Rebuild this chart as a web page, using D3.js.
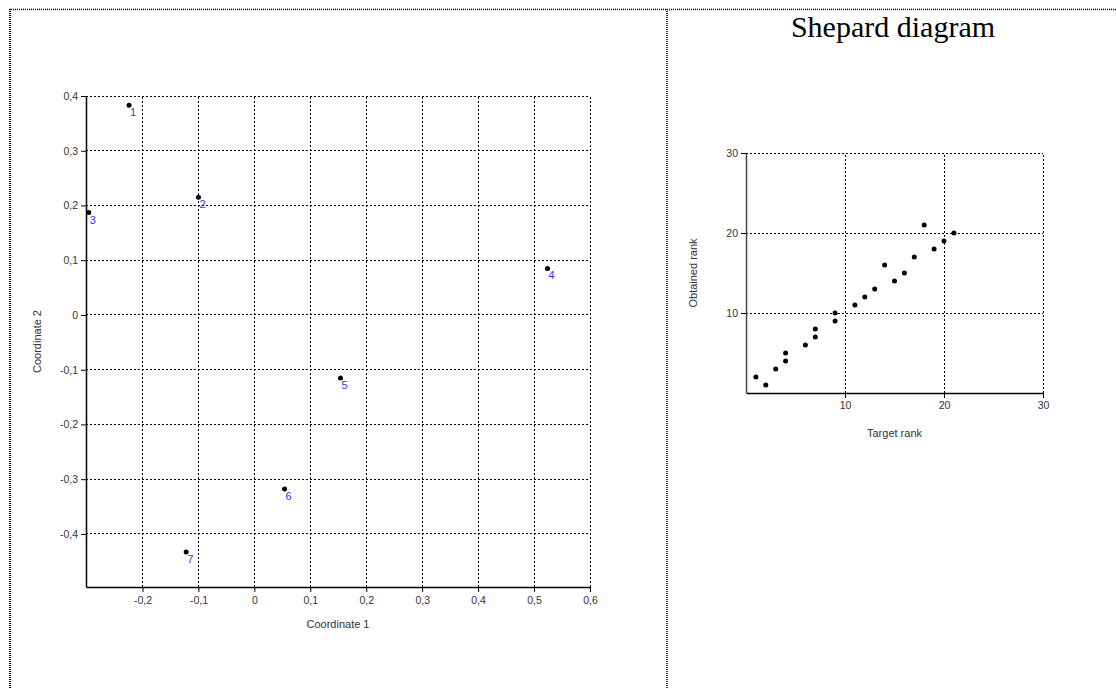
<!DOCTYPE html>
<html>
<head>
<meta charset="utf-8">
<script src="https://cdn.jsdelivr.net/npm/d3@7"></script>
<style>
  body { margin: 0; background: #fff; }
  svg { display: block; font-family: "Liberation Sans", Arial, sans-serif; }
  .tick text { fill: #333; font-size: 10.5px; }
  .grid { stroke: #000; stroke-dasharray: 2,2; stroke-width: 1; fill: none; shape-rendering: crispEdges; }
</style>
</head>
<body>
<div id="chart"></div>
<script>
// MDS configuration (Coordinate 1, Coordinate 2)
var pointIds = ["1", "2", "3", "4", "5", "6", "7"];
var coord1 = [-0.224, -0.100, -0.296, 0.524, 0.154, 0.054, -0.122];
var coord2 = [0.383, 0.215, 0.187, 0.085, -0.115, -0.318, -0.433];

// Shepard diagram ranks
var targetRank   = [1, 2, 3, 4, 4, 6, 7, 7, 9, 9, 11, 12, 13, 14, 15, 16, 17, 18, 19, 20, 21];
var obtainedRank = [2, 1, 3, 4, 5, 6, 7, 8, 9, 10, 11, 12, 13, 16, 14, 15, 17, 21, 18, 19, 20];

var xTicks1 = [-0.2, -0.1, 0, 0.1, 0.2, 0.3, 0.4, 0.5, 0.6];
var yTicks1 = [-0.4, -0.3, -0.2, -0.1, 0, 0.1, 0.2, 0.3, 0.4];
var rankTicks = [10, 20, 30];

var W = 1116, H = 688;

var svg = d3.select("#chart").append("svg")
  .attr("width", W)
  .attr("height", H);

// comma decimal like the original
var loc = d3.formatLocale({decimal: ",", thousands: ".", grouping: [3], currency: ["", ""], minus: "-"});
var fmt = function(d) { return d === 0 ? "0" : loc.format(".1f")(d); };

//-- Page frame (dotted) --//
svg.append("line").attr("x1", 9).attr("x2", W).attr("y1", 9.5).attr("y2", 9.5)
  .attr("stroke", "#000").attr("stroke-width", 1.5).attr("stroke-dasharray", "1,1");
svg.append("line").attr("x1", 10).attr("x2", 10).attr("y1", 9).attr("y2", H)
  .attr("stroke", "#000").attr("stroke-width", 2).attr("stroke-dasharray", "1,1");
svg.append("line").attr("x1", 667).attr("x2", 667).attr("y1", 9).attr("y2", H)
  .attr("stroke", "#000").attr("stroke-width", 1.5).attr("stroke-dasharray", "1,1");

//-- Left: configuration plot --//
var x1 = d3.scaleLinear().domain([-0.301, 0.6]).range([86, 590]);
var y1 = d3.scaleLinear().domain([-0.497, 0.4]).range([587, 96]);

var g1 = svg.append("g");

g1.selectAll(".vgrid").data(xTicks1).enter().append("line")
  .attr("class", "grid")
  .attr("x1", function(d) { return x1(d); }).attr("x2", function(d) { return x1(d); })
  .attr("y1", y1.range()[0]).attr("y2", y1.range()[1]);
g1.selectAll(".hgrid").data(yTicks1).enter().append("line")
  .attr("class", "grid")
  .attr("y1", function(d) { return y1(d); }).attr("y2", function(d) { return y1(d); })
  .attr("x1", x1.range()[0]).attr("x2", x1.range()[1]);

var xAxis1 = d3.axisBottom(x1).tickValues(xTicks1).tickFormat(fmt).tickSize(5).tickPadding(5).tickSizeOuter(0);
var yAxis1 = d3.axisLeft(y1).tickValues(yTicks1).tickFormat(fmt).tickSize(5).tickPadding(3).tickSizeOuter(0);

g1.append("g").attr("transform", "translate(0," + y1.range()[0] + ")").call(xAxis1)
  .call(function(g) { g.select(".domain").attr("stroke-width", 1.5); });
g1.append("g").attr("transform", "translate(" + x1.range()[0] + ",0)").call(yAxis1)
  .call(function(g) { g.select(".domain").attr("stroke-width", 1.5); });

g1.selectAll(".pt").data(pointIds).enter().append("circle")
  .attr("cx", function(d, i) { return x1(coord1[i]); })
  .attr("cy", function(d, i) { return y1(coord2[i]); })
  .attr("r", 2.5)
  .attr("fill", "#000");

g1.selectAll(".lbl").data(pointIds).enter().append("text")
  .attr("x", function(d, i) { return x1(coord1[i]) + 1; })
  .attr("y", function(d, i) { return y1(coord2[i]) + 11; })
  .attr("font-size", "11px")
  .attr("fill", "#3333ff")
  .text(function(d) { return d; });

g1.append("text")
  .attr("x", (x1.range()[0] + x1.range()[1]) / 2).attr("y", 628)
  .attr("text-anchor", "middle").attr("font-size", "11px").attr("fill", "#333")
  .text("Coordinate 1");
g1.append("text")
  .attr("transform", "translate(41," + ((y1.range()[0] + y1.range()[1]) / 2) + ") rotate(-90)")
  .attr("text-anchor", "middle").attr("font-size", "11px").attr("fill", "#333")
  .text("Coordinate 2");

//-- Right: Shepard diagram --//
svg.append("text")
  .attr("x", 893).attr("y", 37)
  .attr("text-anchor", "middle")
  .attr("font-family", "'Liberation Serif', 'Times New Roman', serif")
  .attr("font-size", "30px")
  .attr("fill", "#000")
  .text("Shepard diagram");

var x2 = d3.scaleLinear().domain([0, 30]).range([746, 1043]);
var y2 = d3.scaleLinear().domain([0, 30]).range([393, 153]);

var g2 = svg.append("g");

g2.selectAll(".vgrid").data(rankTicks).enter().append("line")
  .attr("class", "grid")
  .attr("x1", function(d) { return x2(d); }).attr("x2", function(d) { return x2(d); })
  .attr("y1", y2.range()[0]).attr("y2", y2.range()[1]);
g2.selectAll(".hgrid").data(rankTicks).enter().append("line")
  .attr("class", "grid")
  .attr("y1", function(d) { return y2(d); }).attr("y2", function(d) { return y2(d); })
  .attr("x1", x2.range()[0]).attr("x2", x2.range()[1]);

var xAxis2 = d3.axisBottom(x2).tickValues(rankTicks).tickSize(5).tickPadding(4).tickSizeOuter(0);
var yAxis2 = d3.axisLeft(y2).tickValues(rankTicks).tickSize(5).tickPadding(3).tickSizeOuter(0);

g2.append("g").attr("transform", "translate(0," + y2.range()[0] + ")").call(xAxis2)
  .call(function(g) { g.select(".domain").attr("stroke-width", 1.5); });
g2.append("g").attr("transform", "translate(" + x2.range()[0] + ",0)").call(yAxis2)
  .call(function(g) { g.select(".domain").attr("stroke-width", 1.5).attr("stroke", "#444"); });

g2.selectAll(".pt").data(targetRank).enter().append("circle")
  .attr("cx", function(d) { return x2(d); })
  .attr("cy", function(d, i) { return y2(obtainedRank[i]); })
  .attr("r", 2.5)
  .attr("fill", "#000");

g2.append("text")
  .attr("x", (x2.range()[0] + x2.range()[1]) / 2).attr("y", 437)
  .attr("text-anchor", "middle").attr("font-size", "11px").attr("fill", "#333")
  .text("Target rank");
g2.append("text")
  .attr("transform", "translate(697," + ((y2.range()[0] + y2.range()[1]) / 2) + ") rotate(-90)")
  .attr("text-anchor", "middle").attr("font-size", "11px").attr("fill", "#333")
  .text("Obtained rank");
</script>
</body>
</html>
